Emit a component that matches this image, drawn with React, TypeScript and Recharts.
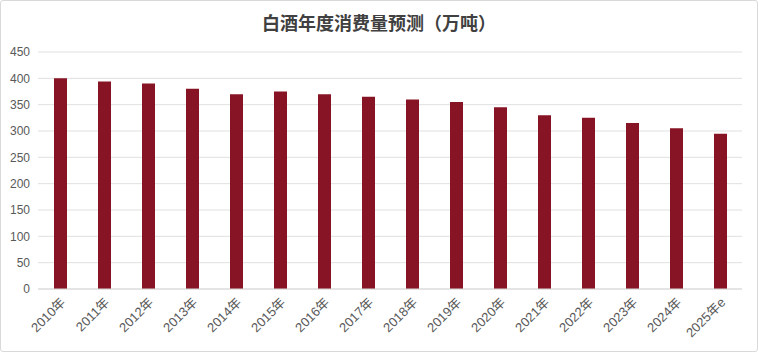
import React from 'react';
import { BarChart, Bar, XAxis, YAxis, CartesianGrid } from 'recharts';

const years = [
  '2010年', '2011年', '2012年', '2013年', '2014年', '2015年', '2016年', '2017年',
  '2018年', '2019年', '2020年', '2021年', '2022年', '2023年', '2024年', '2025年e',
];
const consumption = [400, 394, 390, 380, 370, 375, 370, 365, 360, 355, 345, 330, 325, 315, 305, 295];
const yTicks = [0, 50, 100, 150, 200, 250, 300, 350, 400, 450];

const data = years.map((year, i) => ({ year, value: consumption[i] }));

const FONT = '"Liberation Sans", Arial, "Noto Sans CJK SC", sans-serif';

const XTick = (props: any) => {
  const { x, y, payload } = props;
  return (
    <g transform={`translate(${x + 2},${y + 2})`}>
      <text
        x={0}
        y={0}
        dy={6}
        textAnchor="end"
        transform="rotate(-45)"
        fill="#595959"
        fontSize={13}
        fontFamily={FONT}
      >
        {payload.value}
      </text>
    </g>
  );
};

const App: React.FC = () => {
  return (
    <div style={{ position: 'fixed', left: 0, top: 0, width: 758, height: 352, background: '#fff' }}>
      <div
        style={{
          position: 'absolute',
          left: 0,
          top: 0,
          width: 756,
          height: 350,
          border: '1px solid #d9d9d9',
          borderRadius: 3,
          pointerEvents: 'none',
        }}
      />
      <div
        style={{
          position: 'absolute',
          left: 0,
          top: 9,
          width: 758,
          textAlign: 'center',
          fontSize: 18,
          fontWeight: 'bold',
          color: '#404040',
          fontFamily: '"Noto Sans CJK SC", sans-serif',
        }}
      >
        白酒年度消费量预测（万吨）
      </div>
      <BarChart
        width={758}
        height={352}
        data={data}
        margin={{ top: 52, right: 16, left: 0, bottom: 3 }}
        barCategoryGap={0}
        style={{ position: 'absolute', left: 0, top: 0 }}
      >
        <CartesianGrid vertical={false} stroke="#e0e0e0" />
        <XAxis
          dataKey="year"
          interval={0}
          height={60}
          tickLine={false}
          axisLine={{ stroke: '#d9d9d9' }}
          tick={<XTick />}
        />
        <YAxis
          width={38}
          domain={[0, 450]}
          ticks={yTicks}
          axisLine={false}
          tickLine={false}
          tick={{ fill: '#595959', fontSize: 12, fontFamily: FONT }}
        />
        <Bar dataKey="value" fill="#861424" barSize={13} isAnimationActive={false} />
      </BarChart>
    </div>
  );
};

export default App;
